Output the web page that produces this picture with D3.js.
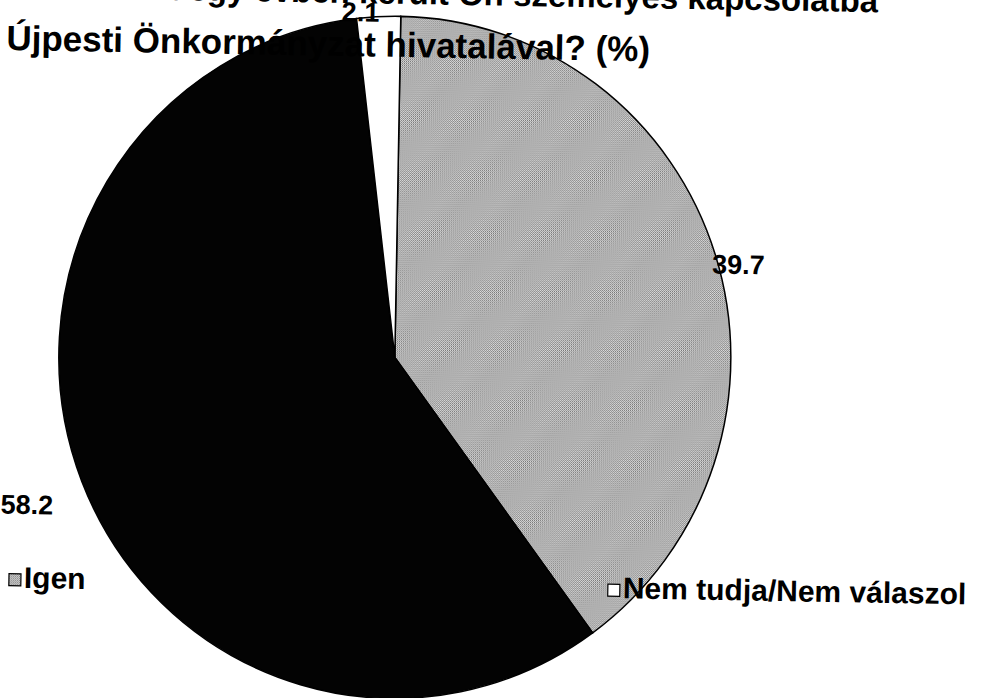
<!DOCTYPE html>
<html>
<head>
<meta charset="utf-8">
<script src="https://cdn.jsdelivr.net/npm/d3@7"></script>
<style>
  body { margin: 0; background: #fff; }
  svg { display: block; font-family: "Liberation Sans", Arial, sans-serif; font-weight: bold; }
</style>
</head>
<body>
<svg id="chart" width="981" height="698"></svg>
<script>
const categories = ["Igen", "Nem", "Nem tudja/Nem válaszol"];
const values = [39.7, 58.2, 2.1];
const valueLabels = ["39.7", "58.2", "2.1"];
const legendItems = ["Igen", "Nem tudja/Nem válaszol"];
const titleLines = [
  "Az elmúlt egy évben került Ön személyes kapcsolatba",
  "Újpesti Önkormányzat hivatalával? (%)"
];

const width = 981, height = 698;
const cx = 395, cy = 359, rx = 336, ry = 341;
const tilt = 1.0; // the scanned page sits slightly askew

const svg = d3.select('#chart');

// stippled grey like the scanned original
const defs = svg.append('defs');
const pat = defs.append('pattern')
  .attr('id', 'grey')
  .attr('width', 2).attr('height', 2)
  .attr('patternUnits', 'userSpaceOnUse');
pat.append('rect').attr('width', 2).attr('height', 2).attr('fill', '#dcdcdc');
pat.append('rect').attr('width', 1).attr('height', 1).attr('fill', '#747474');
pat.append('rect').attr('x', 1).attr('y', 1).attr('width', 1).attr('height', 1).attr('fill', '#929292');

const color = d3.scaleOrdinal()
  .domain(categories)
  .range(['url(#grey)', '#030303', '#ffffff']);

const page = svg.append('g')
  .attr('transform', `rotate(${tilt},${width / 2},${height / 2})`);

const pie = d3.pie().sort(null).value(d => d)(values);
const arc = d3.arc().innerRadius(0).outerRadius(rx);

// slightly taller than wide, as in the scan
const g = page.append('g')
  .attr('transform', `translate(${cx},${cy}) scale(1,${ry / rx})`);

g.selectAll('path.slice')
  .data(pie)
  .enter().append('path')
    .attr('class', 'slice')
    .attr('d', arc)
    .attr('fill', (d, i) => color(categories[i]))
    .attr('stroke', '#000')
    .attr('stroke-width', 1.5);

// data labels just outside the rim
const labelGap = 10;
const fs = 27;
page.append('g').selectAll('text')
  .data(pie)
  .enter().append('text')
    .each(function(d, i) {
      const a = (d.startAngle + d.endAngle) / 2;
      const s = Math.sin(a), c = Math.cos(a);
      const x = cx + s * (rx + labelGap);
      const y = cy - c * (ry + labelGap);
      const t = d3.select(this)
        .attr('font-size', fs)
        .attr('fill', '#000')
        .text(valueLabels[i]);
      const w = this.getComputedTextLength();
      t.attr('x', x + s * w * 0.6 - 16)
       .attr('y', y - c * fs * 0.4 + fs * 0.95)
       .attr('text-anchor', 'middle');
    });

// title, partly cut off by the top edge
page.append('g').selectAll('text')
  .data(titleLines)
  .enter().append('text')
    .attr('x', (d, i) => i === 0 ? 872 : 1)
    .attr('y', (d, i) => i === 0 ? 5.5 : 58.5)
    .attr('text-anchor', (d, i) => i === 0 ? 'end' : 'start')
    .attr('font-size', (d, i) => i === 0 ? 33 : 35)
    .attr('fill', '#000')
    .text(d => d);

// legend along the bottom
const legendX = d3.scalePoint().domain(categories).range([13, 612]);
const legend = page.append('g').selectAll('g')
  .data(legendItems)
  .enter().append('g')
    .attr('transform', d => `translate(${legendX(d)},582)`);

legend.append('rect')
  .attr('width', 12).attr('height', 12)
  .attr('fill', d => color(d))
  .attr('stroke', '#000')
  .attr('stroke-width', 1.2);

legend.append('text')
  .attr('x', 15)
  .attr('y', 14)
  .attr('font-size', 30)
  .attr('fill', '#000')
  .text(d => d);
</script>
</body>
</html>
